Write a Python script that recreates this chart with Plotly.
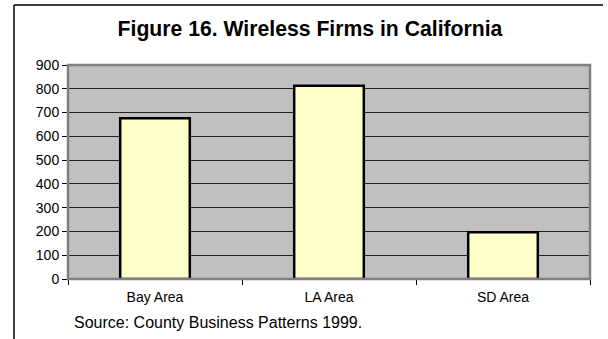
import plotly.graph_objects as go

# Wireless firms by California region, 1999
regions = ["Bay Area", "LA Area", "SD Area"]
firms = [676, 813, 197]
y_ticks = [0, 100, 200, 300, 400, 500, 600, 700, 800, 900]

FONT = "Liberation Sans, Arial, sans-serif"

fig = go.Figure(
    go.Bar(
        x=regions,
        y=firms,
        width=0.4,
        marker=dict(color="#FFFFCC", line=dict(color="black", width=2.5)),
    )
)

W, H = 608, 339
PLOT_W, PLOT_H = 522, 214
# chart frame: left and top edges, kept inside the canvas
frame_left = -54 / PLOT_W
frame_top = 1 + 60 / PLOT_H
frame_bottom = -(H - 279) / PLOT_H
frame_right = 535 / PLOT_W

fig.update_layout(
    width=W,
    height=H,
    margin=dict(l=68, r=18, t=65, b=H - 279),
    paper_bgcolor="white",
    plot_bgcolor="#C0C0C0",
    showlegend=False,
    font=dict(family=FONT, size=14, color="black"),
    title=dict(
        text="<b>Figure 16. Wireless Firms in California</b>",
        x=310 / W,
        xanchor="center",
        xref="container",
        y=1 - 29 / H,
        yanchor="middle",
        font=dict(family=FONT, size=21.2, color="black"),
    ),
    annotations=[
        dict(
            text="Source: County Business Patterns 1999.",
            xref="paper", yref="paper",
            x=4 / PLOT_W, y=-43 / PLOT_H,
            xanchor="left", yanchor="middle",
            showarrow=False,
            font=dict(family=FONT, size=16, color="black"),
        )
    ],
    shapes=[
        dict(type="line", xref="paper", yref="paper",
             x0=frame_left, x1=frame_left, y0=frame_bottom, y1=frame_top,
             line=dict(color="black", width=1.5)),
        dict(type="line", xref="paper", yref="paper",
             x0=frame_left, x1=frame_right, y0=frame_top, y1=frame_top,
             line=dict(color="black", width=1.5)),
        # plot area border
        dict(type="rect", xref="paper", yref="paper",
             x0=0, x1=1, y0=0, y1=1,
             line=dict(color="#808080", width=2.5), layer="above"),
    ],
    bargap=0.6,
)

fig.update_xaxes(
    type="category",
    showline=True, linecolor="black", linewidth=1,
    ticks="outside", ticklen=5, tickcolor="black", tickson="boundaries",
    ticklabelstandoff=5,
    showgrid=False,
    tickfont=dict(family=FONT, size=14),
)
fig.update_yaxes(
    range=[0, 900],
    tickvals=y_ticks,
    showline=True, linecolor="black", linewidth=1,
    ticks="outside", ticklen=5, tickcolor="black",
    showgrid=True, gridcolor="#222222", gridwidth=1,
    zeroline=False,
    tickfont=dict(family=FONT, size=14),
)

fig.write_html("out.html")
